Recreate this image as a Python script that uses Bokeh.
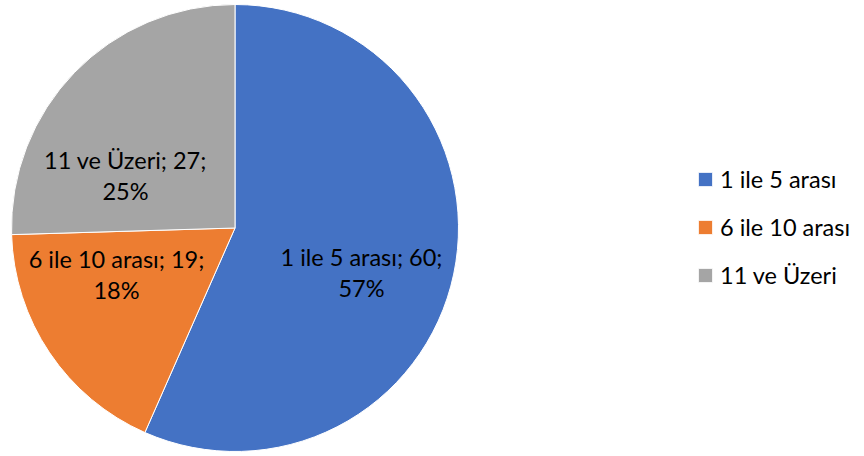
import math
from bokeh.plotting import figure
from bokeh.models import ColumnDataSource, Legend, LegendItem
from bokeh.core.properties import value
from bokeh.embed import file_html
from bokeh.resources import INLINE

categories = ["1 ile 5 arası", "6 ile 10 arası", "11 ve Üzeri"]
values = [60, 19, 27]
colors = ["#4472C4", "#ED7D31", "#A5A5A5"]

W, H = 864, 456
CX, CY, R = 234.5, 456 - 227.5, 223.5
FONT = "Lato"
FS = "23.5px"

total = sum(values)
starts, ends, pcts = [], [], []
a = math.pi / 2
for v in values:
    span = v / total * 2 * math.pi
    starts.append(a - span)
    ends.append(a)
    pcts.append(round(v / total * 100))
    a -= span

p = figure(width=W, height=H, x_range=(0, W), y_range=(0, H),
           output_backend="svg", toolbar_location=None, min_border=0)
p.axis.visible = False
p.grid.visible = False
p.outline_line_color = None
p.background_fill_color = "white"

src = ColumnDataSource(dict(start=starts, end=ends, color=colors, cat=categories))
wr = p.wedge(x=CX, y=CY, radius=R, start_angle="start", end_angle="end",
             fill_color="color", line_color="white", line_width=1, source=src)

# label anchor positions (pixels from pie center), Excel "best fit" style
label_dx = [126.5, -118.5, -109.5]
label_dy = [-44, -46.5, 52.5]
l1x, l1y, l2y, t1, t2 = [], [], [], [], []
for c, v, pc, dx, dy in zip(categories, values, pcts, label_dx, label_dy):
    l1x.append(CX + dx)
    l1y.append(CY + dy + 15.5)
    l2y.append(CY + dy - 15.5)
    t1.append(f"{c}; {v};")
    t2.append(f"{pc}%")
p.text(x=l1x, y=l1y, text=t1, text_align="center", text_baseline="middle",
       text_font=value(FONT), text_font_size=FS, text_color="#000000")
p.text(x=l1x, y=l2y, text=t2, text_align="center", text_baseline="middle",
       text_font=value(FONT), text_font_size=FS, text_color="#000000")

items = [LegendItem(label=c, renderers=[wr], index=i) for i, c in enumerate(categories)]
legend = Legend(items=items, location=(696, 167), orientation="vertical",
                border_line_color=None, background_fill_alpha=0,
                label_text_font=FONT, label_text_font_size=FS,
                label_text_color="#000000",
                glyph_width=18, glyph_height=18, label_height=24,
                spacing=20, padding=0, margin=0, label_standoff=6)
p.add_layout(legend, "center")

open("out.html", "w").write(file_html(p, INLINE))
